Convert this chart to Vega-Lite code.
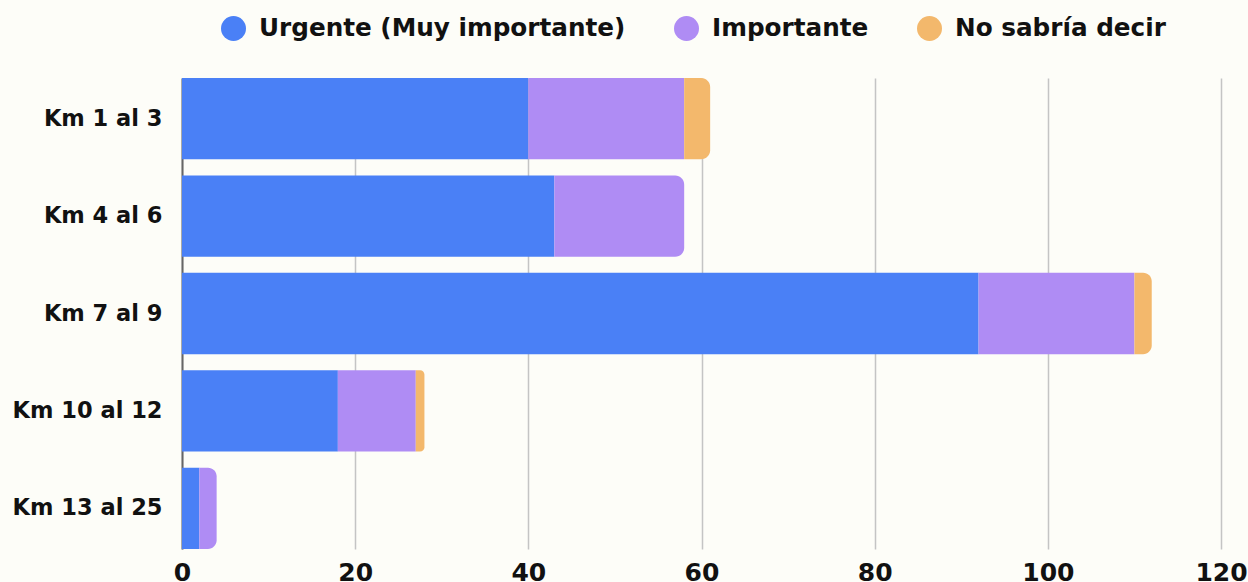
{
  "$schema": "https://vega.github.io/schema/vega-lite/v6.json",
  "width": 1039,
  "height": 471,
  "autosize": {"type": "none"},
  "padding": {"left": 182, "top": 78, "right": 27, "bottom": 33},
  "background": "#fdfdf8",
  "config": {
    "view": {"stroke": null},
    "font": "DejaVu Sans",
    "axis": {"labelFont": "DejaVu Sans", "labelFontWeight": "bold", "labelColor": "#111111"}
  },
  "data": {
    "values": [
      {"tramo": "Km 1 al 3", "categoria": "Urgente (Muy importante)", "valor": 40, "orden": 1},
      {"tramo": "Km 1 al 3", "categoria": "Importante", "valor": 18, "orden": 2},
      {"tramo": "Km 1 al 3", "categoria": "No sabría decir", "valor": 3, "orden": 3},
      {"tramo": "Km 4 al 6", "categoria": "Urgente (Muy importante)", "valor": 43, "orden": 1},
      {"tramo": "Km 4 al 6", "categoria": "Importante", "valor": 15, "orden": 2},
      {"tramo": "Km 4 al 6", "categoria": "No sabría decir", "valor": 0, "orden": 3},
      {"tramo": "Km 7 al 9", "categoria": "Urgente (Muy importante)", "valor": 92, "orden": 1},
      {"tramo": "Km 7 al 9", "categoria": "Importante", "valor": 18, "orden": 2},
      {"tramo": "Km 7 al 9", "categoria": "No sabría decir", "valor": 2, "orden": 3},
      {"tramo": "Km 10 al 12", "categoria": "Urgente (Muy importante)", "valor": 18, "orden": 1},
      {"tramo": "Km 10 al 12", "categoria": "Importante", "valor": 9, "orden": 2},
      {"tramo": "Km 10 al 12", "categoria": "No sabría decir", "valor": 1, "orden": 3},
      {"tramo": "Km 13 al 25", "categoria": "Urgente (Muy importante)", "valor": 2, "orden": 1},
      {"tramo": "Km 13 al 25", "categoria": "Importante", "valor": 2, "orden": 2},
      {"tramo": "Km 13 al 25", "categoria": "No sabría decir", "valor": 0, "orden": 3}
    ]
  },
  "transform": [
    {"filter": "datum.valor > 0"},
    {"stack": "valor", "groupby": ["tramo"], "sort": [{"field": "orden", "order": "ascending"}], "as": ["x0", "x1"]},
    {"joinaggregate": [{"op": "max", "field": "x1", "as": "total"}], "groupby": ["tramo"]}
  ],
  "encoding": {
    "y": {
      "field": "tramo",
      "type": "nominal",
      "sort": ["Km 1 al 3", "Km 4 al 6", "Km 7 al 9", "Km 10 al 12", "Km 13 al 25"],
      "title": null,
      "scale": {"paddingInner": 0.165, "paddingOuter": 0},
      "axis": {
        "labelFontSize": 22.5,
        "labelPadding": 20,
        "ticks": false,
        "domain": true,
        "domainColor": "#666666",
        "domainWidth": 2,
        "grid": false
      }
    },
    "x": {
      "field": "x0",
      "type": "quantitative",
      "title": null,
      "scale": {"domain": [0, 120], "nice": false},
      "axis": {
        "values": [0, 20, 40, 60, 80, 100, 120],
        "labelFontSize": 25,
        "labelPadding": 11,
        "labelFlush": false,
        "ticks": false,
        "domain": false,
        "grid": true,
        "gridColor": "#c4c4c4",
        "gridWidth": 1.5
      }
    },
    "x2": {"field": "x1"},
    "color": {
      "field": "categoria",
      "type": "nominal",
      "scale": {
        "domain": ["Urgente (Muy importante)", "Importante", "No sabría decir"],
        "range": ["#4a80f6", "#af8cf4", "#f3b86c"]
      },
      "legend": {
        "title": null,
        "orient": "none",
        "legendX": 39,
        "legendY": -62,
        "direction": "horizontal",
        "symbolType": "circle",
        "symbolSize": 625,
        "symbolStrokeWidth": 0,
        "labelFont": "DejaVu Sans",
        "labelFontWeight": "bold",
        "labelFontSize": 24.7,
        "labelColor": "#111111",
        "labelOffset": 13,
        "columnPadding": 48,
        "labelLimit": 500
      }
    }
  },
  "layer": [
    {
      "transform": [{"filter": "datum.x1 < datum.total"}],
      "mark": {"type": "bar"}
    },
    {
      "transform": [{"filter": "datum.x1 == datum.total"}],
      "mark": {"type": "bar", "cornerRadiusTopRight": 9, "cornerRadiusBottomRight": 9}
    }
  ]
}
